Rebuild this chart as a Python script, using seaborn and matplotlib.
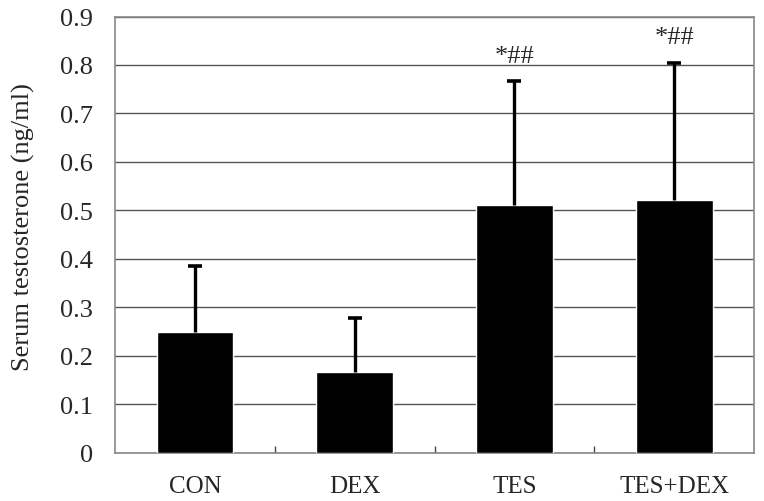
import matplotlib
matplotlib.use("Agg")
import matplotlib.pyplot as plt
from matplotlib.ticker import FixedLocator
import seaborn as sns
import pandas as pd

# values
groups = ["CON", "DEX", "TES", "TES+DEX"]
means = [0.249, 0.167, 0.511, 0.522]
sd_upper = [0.135, 0.110, 0.255, 0.283]
marks = ["", "", "*##", "*##"]
yticks = [0, 0.1, 0.2, 0.3, 0.4, 0.5, 0.6, 0.7, 0.8, 0.9]

df = pd.DataFrame({"group": groups, "value": means})

sns.set_style("white")
plt.rcParams["font.family"] = ["Liberation Serif", "DejaVu Serif"]

fig = plt.figure(figsize=(7.64, 5.02), dpi=100)
ax = fig.add_axes([0.1505, 0.0966, 0.8365, 0.8685])

sns.barplot(data=df, x="group", y="value", color="black", width=0.48,
            errorbar=None, saturation=1, ax=ax, zorder=3)

# upper-only error bars, drop the lower caps
xpos = list(range(len(groups)))
eb = ax.errorbar(xpos, means, yerr=[[0] * len(groups), sd_upper], fmt="none",
                 ecolor="black", elinewidth=2.4, capsize=5, capthick=2.6, zorder=4)
eb[1][0].remove()

# significance marks
for x, m, e, s in zip(xpos, means, sd_upper, marks):
    if s:
        ax.text(x, m + e + 0.03, s, ha="center", va="bottom", fontsize=19)

ax.set_ylim(0, 0.9)
ax.set_xlim(-0.5, 3.5)
ax.set_yticks(yticks)
ax.set_yticklabels([f"{t:g}" for t in yticks])
ax.yaxis.grid(True, color="#555555", linewidth=1.0)
ax.set_axisbelow(True)

for sp in ax.spines.values():
    sp.set_color("#888888")
    sp.set_linewidth(1.2)

ax.xaxis.set_minor_locator(FixedLocator([0.5, 1.5, 2.5]))
ax.tick_params(axis="x", which="major", length=0, pad=16, labelsize=18)
ax.tick_params(axis="x", which="minor", bottom=True, direction="in",
               length=5, width=1, color="#444444")
ax.tick_params(axis="y", length=0, pad=16, labelsize=19)

ax.set_xlabel("")
ax.set_ylabel("Serum testosterone (ng/ml)", fontsize=19)
ax.yaxis.set_label_coords(-0.125, 0.52)

fig.savefig("out.png", dpi=100)
